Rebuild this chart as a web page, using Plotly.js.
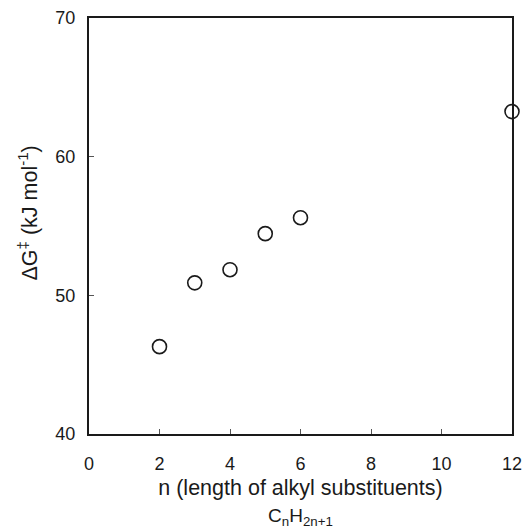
<!DOCTYPE html>
<html><head><meta charset="utf-8">
<script src="https://cdn.plot.ly/plotly-3.0.1.min.js"></script>
<style>html,body{margin:0;padding:0;background:#fff}</style>
</head><body>
<div id="chart" style="width:523px;height:530px"></div>
<script>
var chainLength = [2, 3, 4, 5, 6, 12];
var deltaG = [46.3, 50.9, 51.85, 54.45, 55.6, 63.25];
var xTicks = [0, 2, 4, 6, 8, 10, 12];
var yTicks = [40, 50, 60, 70];

var trace = {
  x: chainLength, y: deltaG, type: 'scatter', mode: 'markers',
  marker: {symbol: 'circle-open', size: 14, color: '#1a1a1a', line: {width: 1.6, color: '#1a1a1a'}},
  cliponaxis: false, hoverinfo: 'none'
};
var fam = 'Liberation Sans, Arial, sans-serif';
var layout = {
  width: 523, height: 530,
  margin: {l: 89, r: 11, t: 18, b: 96},
  paper_bgcolor: '#fff', plot_bgcolor: '#fff',
  showlegend: false,
  font: {family: fam, size: 18, color: '#1a1a1a'},
  xaxis: {
    range: [0, 12], tickvals: xTicks, ticktext: xTicks.map(String),
    showgrid: false, zeroline: false, showline: true, mirror: true,
    linecolor: '#1a1a1a', linewidth: 2,
    ticks: 'inside', ticklen: 5, tickwidth: 1, tickcolor: '#555',
    ticklabelstandoff: 12,
    tickfont: {family: fam, size: 18, color: '#1a1a1a'},
    title: {text: 'n (length of alkyl substituents)', font: {family: fam, size: 21.5, color: '#1a1a1a'}, standoff: 7}
  },
  yaxis: {
    range: [40, 70], tickvals: yTicks, ticktext: yTicks.map(String),
    showgrid: false, zeroline: false, showline: true, mirror: true,
    linecolor: '#1a1a1a', linewidth: 2,
    ticks: 'inside', ticklen: 5, tickwidth: 1, tickcolor: '#555',
    ticklabelstandoff: 8,
    tickfont: {family: fam, size: 18, color: '#1a1a1a'}
  },
  annotations: [{
    text: 'C<sub>n</sub>H<sub>2n+1</sub>', xref: 'paper', yref: 'paper',
    x: 0.5, y: 0, yshift: -83, xanchor: 'center', yanchor: 'middle', showarrow: false,
    font: {family: fam, size: 19, color: '#1a1a1a'}
  }, {
    text: 'ΔG<sup>‡</sup> (kJ mol<sup>-1</sup>)', xref: 'paper', yref: 'paper',
    x: 0, y: 0.53, xshift: -61, xanchor: 'center', yanchor: 'middle', textangle: -90, showarrow: false,
    font: {family: fam, size: 21.5, color: '#1a1a1a'}
  }]
};
Plotly.newPlot('chart', [trace], layout, {staticPlot: true, displayModeBar: false});
</script>
</body></html>
